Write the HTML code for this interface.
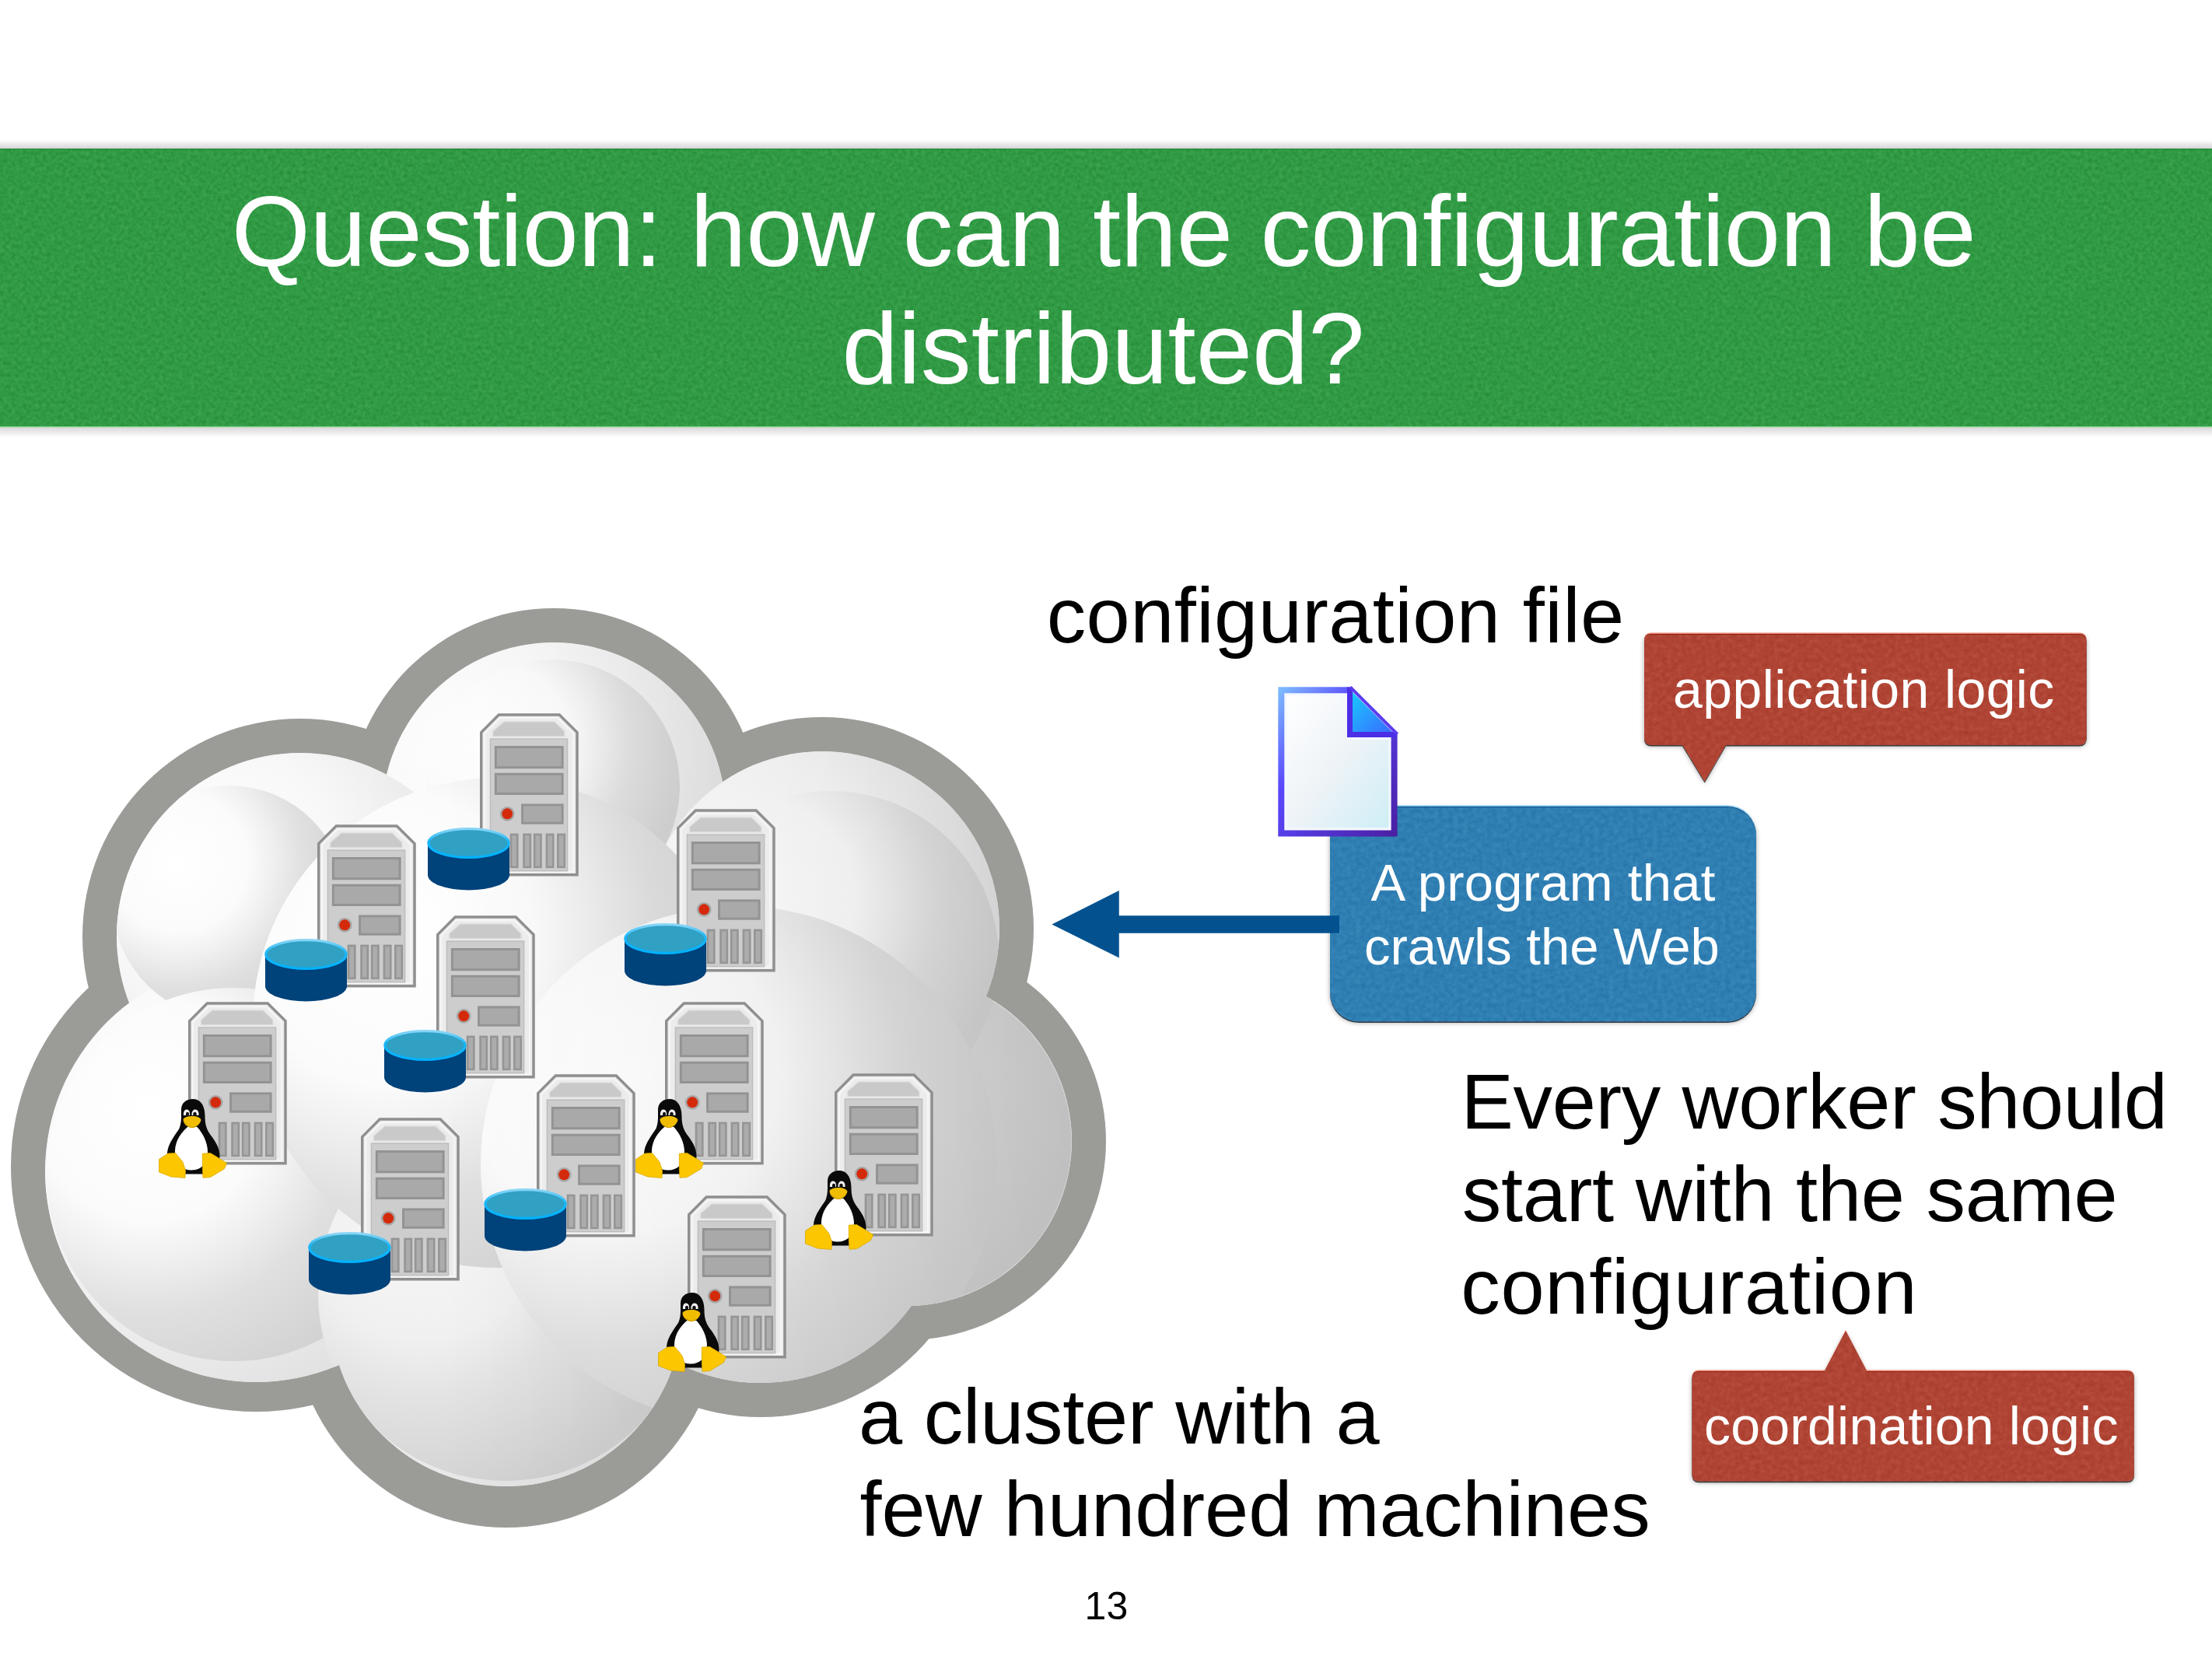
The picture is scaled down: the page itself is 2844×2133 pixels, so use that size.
<!DOCTYPE html>
<html><head><meta charset="utf-8"><title>Question: how can the configuration be distributed?</title>
<style>
html,body{margin:0;padding:0;background:#fff;}
body{width:2844px;height:2133px;position:relative;overflow:hidden;font-family:"Liberation Sans",sans-serif;}
.t{position:absolute;white-space:pre;font-family:"Liberation Sans",sans-serif;}
svg.g{position:absolute;left:0;top:0;}
</style></head><body>

<svg class="g" width="2844" height="2133" viewBox="0 0 2844 2133">
<defs>
<filter id="paper" x="0" y="0" width="100%" height="100%" color-interpolation-filters="sRGB">
  <feTurbulence type="fractalNoise" baseFrequency="0.2" numOctaves="2" seed="7" result="n"/>
  <feColorMatrix in="n" type="matrix" values="0.32 0 0 0 0.34  0.32 0 0 0 0.34  0.32 0 0 0 0.34  0 0 0 0 1" result="g"/>
  <feBlend in="g" in2="SourceGraphic" mode="soft-light" result="b"/>
  <feComposite in="b" in2="SourceGraphic" operator="in"/>
</filter>
<filter id="paper2" x="0" y="0" width="100%" height="100%" color-interpolation-filters="sRGB">
  <feTurbulence type="fractalNoise" baseFrequency="0.16" numOctaves="2" seed="11" result="n"/>
  <feColorMatrix in="n" type="matrix" values="0.24 0 0 0 0.38  0.24 0 0 0 0.38  0.24 0 0 0 0.38  0 0 0 0 1" result="g"/>
  <feBlend in="g" in2="SourceGraphic" mode="soft-light" result="b"/>
  <feComposite in="b" in2="SourceGraphic" operator="in"/>
</filter>
<linearGradient id="shTop" x1="0" y1="0" x2="0" y2="1">
  <stop offset="0" stop-color="#ffffff"/><stop offset="1" stop-color="#d6d4d6"/>
</linearGradient>
<linearGradient id="shBot" x1="0" y1="0" x2="0" y2="1">
  <stop offset="0" stop-color="#d8d6d8"/><stop offset="1" stop-color="#ffffff"/>
</linearGradient>
<linearGradient id="docFill" x1="0" y1="0" x2="1" y2="1">
  <stop offset="0" stop-color="#ffffff"/><stop offset="0.5" stop-color="#eef3f7"/><stop offset="1" stop-color="#cfeef6"/>
</linearGradient>
<linearGradient id="docEar" x1="0" y1="0" x2="1" y2="1">
  <stop offset="0" stop-color="#18c8ff"/><stop offset="1" stop-color="#3a6cff"/>
</linearGradient>
<linearGradient id="docStroke" x1="0" y1="0" x2="1" y2="1">
  <stop offset="0" stop-color="#7fc0ff"/><stop offset="0.35" stop-color="#5a48ff"/><stop offset="1" stop-color="#4a1ea0"/>
</linearGradient>
<symbol id="srv" viewBox="0 0 128 211" overflow="visible">
  <path d="M24.5,1.75 H103 L126,24.5 V209 H1.75 V24.5 Z" fill="#ececec" stroke="#8f8f8f" stroke-width="3.5"/>
  <path d="M6,26 L26,6 H101 L121,26 V205 H6 Z" fill="none" stroke="#f6f6f6" stroke-width="2"/>
  <rect x="13.5" y="33" width="100" height="171" fill="#cdcdcd" stroke="#bdbdbd" stroke-width="1.5"/>
  <path d="M31,10.5 H97 L110,23 V30 H16.5 V23 Z" fill="#c9c9c9" stroke="#e2e2e2" stroke-width="1.5"/>
  <rect x="20.5" y="43.5" width="86.5" height="26.5" fill="#a9a9a9" stroke="#939393" stroke-width="3"/>
  <rect x="20.5" y="78.5" width="86.5" height="25.5" fill="#a9a9a9" stroke="#939393" stroke-width="3"/>
  <circle cx="35.5" cy="130" r="9.5" fill="#a7a7a7"/>
  <circle cx="35.5" cy="130" r="7" fill="#d42a0c"/>
  <rect x="55" y="118.5" width="52" height="23.5" fill="#a9a9a9" stroke="#939393" stroke-width="3"/>
  <g fill="#acacac" stroke="#959595" stroke-width="2.6">
    <rect x="40.3" y="156.8" width="8.4" height="42.3"/>
    <rect x="57" y="156.8" width="8.4" height="42.3"/>
    <rect x="70.7" y="156.8" width="8.4" height="42.3"/>
    <rect x="86.6" y="156.8" width="8.4" height="42.3"/>
    <rect x="101.1" y="156.8" width="8.6" height="42.3"/>
  </g>
</symbol>
<linearGradient id="rimG" x1="0" y1="0" x2="0" y2="1">
  <stop offset="0" stop-color="#8ad6f6"/><stop offset="0.45" stop-color="#18b6f8"/><stop offset="1" stop-color="#00b2ff"/>
</linearGradient>
<symbol id="disk" viewBox="0 0 106 81" overflow="visible">
  <path d="M0.5,20 V61 A52.5,19.5 0 0 0 105.5,61 V20 Z" fill="#00427a"/>
  <ellipse cx="53" cy="20" rx="51.6" ry="18.4" fill="#30a0c3" stroke="url(#rimG)" stroke-width="3.2"/>
</symbol>
<symbol id="tux" viewBox="0 0 87 102" overflow="visible">
  <path d="M43.5,0 C35,0 28.5,5 28.5,14 C28.5,24 29,30 26,38 C20,47 13,56 11,66 C9,76 12,88 22,94 L33,96.5 L56,96.5 C68,94 78,86 78,74 C78,63 73,55 66,46 C61,39 59,32 59,22 C59,7 52,0 43.5,0 Z" fill="#0a0a0a"/>
  <path d="M38,35 C29,42 21,53 20.5,66 C20,82 28,91 40.5,91.5 C53,92 62,84 62.5,70 C63,56 56,44 49,36 Z" fill="#ffffff"/>
  <path d="M31.5,21 C31,16 33,13.5 35.5,13.5 C38.5,13.5 40,16.5 39.5,21 Z" fill="#f2f2f2"/>
  <path d="M42,21 C41.5,16 44,13.5 46.5,13.5 C49.5,13.5 51.5,16.5 51,21 Z" fill="#f2f2f2"/>
  <ellipse cx="36.5" cy="19.5" rx="2" ry="2.8" fill="#111"/>
  <ellipse cx="46" cy="19.5" rx="2.2" ry="2.8" fill="#111"/>
  <path d="M31,26 C33,22.5 39,22 43,22 C48,22 53,23.5 54,27 C53,32 48,36.5 42.5,37 C36,37 31,31.5 31,26 Z" fill="#f0bd00"/>
  <path d="M33,30 C36,34 40,36 43,36 C47,36 51,33 53,29.5 C51,33.5 47,37 42.5,37 C38,37 35,34 33,30 Z" fill="#c99a00"/>
  <path d="M0,77.5 L11.5,70 L21,69.5 L30.5,81 L34,92 L33.5,101.5 L15.5,100 L0,94 Z" fill="#fcc700" stroke="#d9a800" stroke-width="0.8"/>
  <path d="M55.8,70.2 L66,69.5 L76.8,76 L87,82.5 L84,89.7 L66,100.6 L56.5,101.3 L55.8,88.3 Z" fill="#fcc700" stroke="#d9a800" stroke-width="0.8"/>
</symbol>
</defs>
<rect x="0" y="180" width="2844" height="11" fill="url(#shTop)"/>
<rect x="0" y="549" width="2844" height="13" fill="url(#shBot)"/>
<rect x="0" y="191" width="2844" height="358" fill="#309a44" filter="url(#paper)"/>
<rect x="0" y="191" width="2844" height="1.2" fill="#24853a" opacity="0.8"/>
<rect x="0" y="548" width="2844" height="1.3" fill="#7fd98a" opacity="0.85"/>
<g id="cloud">
<g fill="#9b9b98"><circle cx="712" cy="1047" r="265"/><circle cx="386" cy="1204" r="280"/><circle cx="1057" cy="1194" r="272"/><circle cx="329" cy="1500" r="315"/><circle cx="651" cy="1689" r="275"/><circle cx="978" cy="1539" r="283"/><circle cx="1166" cy="1467" r="256"/><circle cx="716" cy="1355" r="270"/></g>
<clipPath id="cin"><circle cx="712" cy="1047" r="221"/><circle cx="386" cy="1204" r="236"/><circle cx="1057" cy="1194" r="228"/><circle cx="329" cy="1506" r="271"/><circle cx="651" cy="1685" r="226"/><circle cx="978" cy="1539" r="239"/><circle cx="1166" cy="1467" r="212"/><circle cx="716" cy="1355" r="226"/></clipPath>
<g fill="#eeeeee"><circle cx="712" cy="1047" r="221"/><circle cx="386" cy="1204" r="236"/><circle cx="1057" cy="1194" r="228"/><circle cx="329" cy="1506" r="271"/><circle cx="651" cy="1685" r="226"/><circle cx="978" cy="1539" r="239"/><circle cx="1166" cy="1467" r="212"/><circle cx="716" cy="1355" r="226"/></g>
<defs><radialGradient id="lg0" cx="613" cy="970" r="332" gradientUnits="userSpaceOnUse"><stop offset="0" stop-color="#ffffff"/><stop offset="0.45" stop-color="#f8f8f8"/><stop offset="0.75" stop-color="#ececec"/><stop offset="1" stop-color="#e2e2e2"/></radialGradient><radialGradient id="lg1" cx="280" cy="1121" r="354" gradientUnits="userSpaceOnUse"><stop offset="0" stop-color="#ffffff"/><stop offset="0.45" stop-color="#f8f8f8"/><stop offset="0.75" stop-color="#ececec"/><stop offset="1" stop-color="#e2e2e2"/></radialGradient><radialGradient id="lg2" cx="954" cy="1114" r="342" gradientUnits="userSpaceOnUse"><stop offset="0" stop-color="#ffffff"/><stop offset="0.45" stop-color="#f8f8f8"/><stop offset="0.75" stop-color="#ececec"/><stop offset="1" stop-color="#e2e2e2"/></radialGradient><radialGradient id="lg3" cx="207" cy="1411" r="406" gradientUnits="userSpaceOnUse"><stop offset="0" stop-color="#ffffff"/><stop offset="0.45" stop-color="#f8f8f8"/><stop offset="0.75" stop-color="#ececec"/><stop offset="1" stop-color="#e2e2e2"/></radialGradient><radialGradient id="lg4" cx="549" cy="1606" r="339" gradientUnits="userSpaceOnUse"><stop offset="0" stop-color="#ffffff"/><stop offset="0.45" stop-color="#f8f8f8"/><stop offset="0.75" stop-color="#ececec"/><stop offset="1" stop-color="#e2e2e2"/></radialGradient><radialGradient id="lg5" cx="870" cy="1455" r="358" gradientUnits="userSpaceOnUse"><stop offset="0" stop-color="#ffffff"/><stop offset="0.45" stop-color="#f8f8f8"/><stop offset="0.75" stop-color="#ececec"/><stop offset="1" stop-color="#e2e2e2"/></radialGradient><radialGradient id="lg6" cx="1071" cy="1393" r="318" gradientUnits="userSpaceOnUse"><stop offset="0" stop-color="#ffffff"/><stop offset="0.45" stop-color="#f8f8f8"/><stop offset="0.75" stop-color="#ececec"/><stop offset="1" stop-color="#e2e2e2"/></radialGradient><radialGradient id="lg7" cx="614" cy="1276" r="339" gradientUnits="userSpaceOnUse"><stop offset="0" stop-color="#ffffff"/><stop offset="0.45" stop-color="#f8f8f8"/><stop offset="0.75" stop-color="#ececec"/><stop offset="1" stop-color="#e2e2e2"/></radialGradient><radialGradient id="sg0" cx="1071" cy="1393" r="316" gradientUnits="userSpaceOnUse"><stop offset="0" stop-color="#e6e6e6"/><stop offset="0.4" stop-color="#dddddd"/><stop offset="1" stop-color="#cfcfcf"/></radialGradient><radialGradient id="sg1" cx="972" cy="1157" r="322" gradientUnits="userSpaceOnUse"><stop offset="0" stop-color="#ffffff"/><stop offset="0.4" stop-color="#fbfbfb"/><stop offset="0.55" stop-color="#efefef"/><stop offset="0.72" stop-color="#e0e0e0"/><stop offset="1" stop-color="#d3d3d3"/></radialGradient><radialGradient id="sg2" cx="638" cy="954" r="244" gradientUnits="userSpaceOnUse"><stop offset="0" stop-color="#ffffff"/><stop offset="0.4" stop-color="#fbfbfb"/><stop offset="0.55" stop-color="#efefef"/><stop offset="0.72" stop-color="#e0e0e0"/><stop offset="1" stop-color="#d3d3d3"/></radialGradient><radialGradient id="sg3" cx="228" cy="1108" r="225" gradientUnits="userSpaceOnUse"><stop offset="0" stop-color="#ffffff"/><stop offset="0.4" stop-color="#fbfbfb"/><stop offset="0.55" stop-color="#efefef"/><stop offset="0.72" stop-color="#e0e0e0"/><stop offset="1" stop-color="#d3d3d3"/></radialGradient><radialGradient id="sg4" cx="192" cy="1426" r="360" gradientUnits="userSpaceOnUse"><stop offset="0" stop-color="#ffffff"/><stop offset="0.4" stop-color="#fbfbfb"/><stop offset="0.55" stop-color="#efefef"/><stop offset="0.72" stop-color="#e0e0e0"/><stop offset="1" stop-color="#d3d3d3"/></radialGradient><radialGradient id="sg5" cx="542" cy="1579" r="362" gradientUnits="userSpaceOnUse"><stop offset="0" stop-color="#f7f7f7"/><stop offset="0.4" stop-color="#f0f0f0"/><stop offset="0.6" stop-color="#e3e3e3"/><stop offset="1" stop-color="#cfcfcf"/></radialGradient><radialGradient id="sg6" cx="498" cy="1205" r="472" gradientUnits="userSpaceOnUse"><stop offset="0" stop-color="#ffffff"/><stop offset="0.4" stop-color="#fbfbfb"/><stop offset="0.55" stop-color="#efefef"/><stop offset="0.72" stop-color="#e0e0e0"/><stop offset="1" stop-color="#d3d3d3"/></radialGradient><radialGradient id="sg7" cx="801" cy="1381" r="498" gradientUnits="userSpaceOnUse"><stop offset="0" stop-color="#ffffff"/><stop offset="0.4" stop-color="#fbfbfb"/><stop offset="0.55" stop-color="#efefef"/><stop offset="0.72" stop-color="#e0e0e0"/><stop offset="1" stop-color="#d3d3d3"/></radialGradient></defs>
<g clip-path="url(#cin)">
<circle cx="712" cy="1047" r="221" fill="url(#lg0)"/>
<circle cx="386" cy="1204" r="236" fill="url(#lg1)"/>
<circle cx="1057" cy="1194" r="228" fill="url(#lg2)"/>
<circle cx="329" cy="1506" r="271" fill="url(#lg3)"/>
<circle cx="651" cy="1685" r="226" fill="url(#lg4)"/>
<circle cx="978" cy="1539" r="239" fill="url(#lg5)"/>
<circle cx="1166" cy="1467" r="212" fill="url(#lg6)"/>
<circle cx="716" cy="1355" r="226" fill="url(#lg7)"/>
<circle cx="1166" cy="1467" r="211" fill="url(#sg0)"/>
<circle cx="1069" cy="1232" r="215" fill="url(#sg1)"/>
<circle cx="711" cy="1011" r="163" fill="url(#sg2)"/>
<circle cx="295" cy="1160" r="150" fill="url(#sg3)"/>
<circle cx="300" cy="1510" r="240" fill="url(#sg4)"/>
<circle cx="650" cy="1663" r="241" fill="url(#sg5)"/>
<circle cx="640" cy="1315" r="315" fill="url(#sg6)"/>
<circle cx="950" cy="1497" r="332" fill="url(#sg7)"/>
<defs><linearGradient id="shade" gradientUnits="userSpaceOnUse" x1="560" y1="0" x2="1420" y2="0"><stop offset="0" stop-color="#000" stop-opacity="0"/><stop offset="1" stop-color="#000" stop-opacity="0.08"/></linearGradient></defs>
<rect x="0" y="700" width="1440" height="1300" fill="url(#shade)"/>
</g>
<use href="#srv" x="617" y="917" width="127" height="210"/>
<use href="#disk" x="549.5" y="1064" width="106" height="81"/>
<use href="#srv" x="870" y="1040" width="127" height="210"/>
<use href="#disk" x="802.5" y="1187" width="106" height="81"/>
<use href="#srv" x="408" y="1060" width="127" height="210"/>
<use href="#disk" x="340.5" y="1207" width="106" height="81"/>
<use href="#srv" x="561" y="1177" width="127" height="210"/>
<use href="#disk" x="493.5" y="1324" width="106" height="81"/>
<use href="#srv" x="242" y="1288" width="127" height="210"/>
<use href="#tux" x="204.5" y="1413" width="87" height="102"/>
<use href="#srv" x="855" y="1288" width="127" height="210"/>
<use href="#tux" x="817.5" y="1413" width="87" height="102"/>
<use href="#srv" x="690" y="1381" width="127" height="210"/>
<use href="#disk" x="622.5" y="1528" width="106" height="81"/>
<use href="#srv" x="1073" y="1380" width="127" height="210"/>
<use href="#tux" x="1035.5" y="1505" width="87" height="102"/>
<use href="#srv" x="464" y="1437" width="127" height="210"/>
<use href="#disk" x="396.5" y="1584" width="106" height="81"/>
<use href="#srv" x="884" y="1537" width="127" height="210"/>
<use href="#tux" x="846.5" y="1662" width="87" height="102"/>
</g>
<defs><filter id="blur3" x="-10%" y="-10%" width="120%" height="140%"><feGaussianBlur stdDeviation="3"/></filter></defs>
<path d="M1747,1035.5 H2221 A37,37 0 0 1 2258,1072.5 V1274 A37,37 0 0 1 2221,1311 H1747 A37,37 0 0 1 1710,1274 V1072.5 A37,37 0 0 1 1747,1035.5 Z" fill="#000" opacity="0.35" transform="translate(0,4)" filter="url(#blur3)"/>
<path d="M1747,1035.5 H2221 A37,37 0 0 1 2258,1072.5 V1274 A37,37 0 0 1 2221,1311 H1747 A37,37 0 0 1 1710,1274 V1072.5 A37,37 0 0 1 1747,1035.5 Z" fill="#2a3a4a" transform="translate(0,4)"/>
<path d="M1747,1035.5 H2221 A37,37 0 0 1 2258,1072.5 V1274 A37,37 0 0 1 2221,1311 H1747 A37,37 0 0 1 1710,1274 V1072.5 A37,37 0 0 1 1747,1035.5 Z" fill="#74c4f4"/>
<path d="M1747,1035.5 H2221 A37,37 0 0 1 2258,1072.5 V1274 A37,37 0 0 1 2221,1311 H1747 A37,37 0 0 1 1710,1274 V1072.5 A37,37 0 0 1 1747,1035.5 Z" fill="#0b4d80" transform="translate(0,1.5)"/>
<path d="M1747,1035.5 H2221 A37,37 0 0 1 2258,1072.5 V1274 A37,37 0 0 1 2221,1311 H1747 A37,37 0 0 1 1710,1274 V1072.5 A37,37 0 0 1 1747,1035.5 Z" fill="#2f7fb3" transform="translate(0,2.5)" filter="url(#paper2)"/>
<path d="M2123,813.6 H2673.6 Q2682.6,813.6 2682.6,822.6 V946.5 Q2682.6,955.5 2673.6,955.5 H2219 L2191.7,1002.8 L2163,955.5 H2123 Q2114,955.5 2114,946.5 V822.6 Q2114,813.6 2123,813.6 Z" fill="#000" opacity="0.35" transform="translate(0,4)" filter="url(#blur3)"/>
<path d="M2123,813.6 H2673.6 Q2682.6,813.6 2682.6,822.6 V946.5 Q2682.6,955.5 2673.6,955.5 H2219 L2191.7,1002.8 L2163,955.5 H2123 Q2114,955.5 2114,946.5 V822.6 Q2114,813.6 2123,813.6 Z" fill="#3a3a3a" transform="translate(0,4)"/>
<path d="M2123,813.6 H2673.6 Q2682.6,813.6 2682.6,822.6 V946.5 Q2682.6,955.5 2673.6,955.5 H2219 L2191.7,1002.8 L2163,955.5 H2123 Q2114,955.5 2114,946.5 V822.6 Q2114,813.6 2123,813.6 Z" fill="#f28a76"/>
<path d="M2123,813.6 H2673.6 Q2682.6,813.6 2682.6,822.6 V946.5 Q2682.6,955.5 2673.6,955.5 H2219 L2191.7,1002.8 L2163,955.5 H2123 Q2114,955.5 2114,946.5 V822.6 Q2114,813.6 2123,813.6 Z" fill="#8a2010" transform="translate(0,1.5)"/>
<path d="M2123,813.6 H2673.6 Q2682.6,813.6 2682.6,822.6 V946.5 Q2682.6,955.5 2673.6,955.5 H2219 L2191.7,1002.8 L2163,955.5 H2123 Q2114,955.5 2114,946.5 V822.6 Q2114,813.6 2123,813.6 Z" fill="#b04434" transform="translate(0,2.5)" filter="url(#paper2)"/>
<path d="M2184.5,1761.5 H2346 L2373,1710 L2400,1761.5 H2735 Q2744,1761.5 2744,1770.5 V1893.2 Q2744,1902.2 2735,1902.2 H2184.5 Q2175.5,1902.2 2175.5,1893.2 V1770.5 Q2175.5,1761.5 2184.5,1761.5 Z" fill="#000" opacity="0.35" transform="translate(0,4)" filter="url(#blur3)"/>
<path d="M2184.5,1761.5 H2346 L2373,1710 L2400,1761.5 H2735 Q2744,1761.5 2744,1770.5 V1893.2 Q2744,1902.2 2735,1902.2 H2184.5 Q2175.5,1902.2 2175.5,1893.2 V1770.5 Q2175.5,1761.5 2184.5,1761.5 Z" fill="#3a3a3a" transform="translate(0,4)"/>
<path d="M2184.5,1761.5 H2346 L2373,1710 L2400,1761.5 H2735 Q2744,1761.5 2744,1770.5 V1893.2 Q2744,1902.2 2735,1902.2 H2184.5 Q2175.5,1902.2 2175.5,1893.2 V1770.5 Q2175.5,1761.5 2184.5,1761.5 Z" fill="#f28a76"/>
<path d="M2184.5,1761.5 H2346 L2373,1710 L2400,1761.5 H2735 Q2744,1761.5 2744,1770.5 V1893.2 Q2744,1902.2 2735,1902.2 H2184.5 Q2175.5,1902.2 2175.5,1893.2 V1770.5 Q2175.5,1761.5 2184.5,1761.5 Z" fill="#8a2010" transform="translate(0,1.5)"/>
<path d="M2184.5,1761.5 H2346 L2373,1710 L2400,1761.5 H2735 Q2744,1761.5 2744,1770.5 V1893.2 Q2744,1902.2 2735,1902.2 H2184.5 Q2175.5,1902.2 2175.5,1893.2 V1770.5 Q2175.5,1761.5 2184.5,1761.5 Z" fill="#b04434" transform="translate(0,2.5)" filter="url(#paper2)"/>
<path d="M1352.4,1188.4 L1438.8,1145 V1177.3 H1722 V1199.7 H1438.8 V1231.6 Z" fill="#03528f"/>
<path d="M1643.3,883.3 H1732 L1796.6,948 V1075.4 H1643.3 Z" fill="url(#docStroke)"/>
<path d="M1651.3,891.3 H1732 V948 H1788.6 V1067.4 H1651.3 Z" fill="#f4f8ff"/>
<path d="M1654.5,894.5 H1732 V951 H1785.5 V1064.2 H1654.5 Z" fill="url(#docFill)"/>
<path d="M1732,883.3 H1739 V941 H1796.6 V948 H1732 Z" fill="#4b2ee6"/>
<path d="M1739,890 L1790,941 H1739 Z" fill="url(#docEar)"/>
<path d="M1736,883.3 L1796.6,943.9" stroke="#5a3cf0" stroke-width="4" fill="none"/>
</svg>
<div class="t" style="left:297.8px;top:222.4px;font-size:130px;line-height:151px;color:#fff;letter-spacing:-0.32px;">Question: how can the configuration be</div>
<div class="t" style="left:1082.5px;top:373.4px;font-size:130px;line-height:151px;color:#fff;">distributed?</div>
<div class="t" style="left:1345.7px;top:731.5px;font-size:101px;line-height:119px;color:#000;letter-spacing:0.41px;">configuration file</div>
<div class="t" style="left:2151.1px;top:846.2px;font-size:68px;line-height:80px;color:#fff;letter-spacing:0.4px;">application logic</div>
<div class="t" style="left:1762.5px;top:1094.2px;font-size:67px;line-height:82px;color:#fff;letter-spacing:0.26px;">A program that</div>
<div class="t" style="left:1753.9px;top:1176.2px;font-size:67px;line-height:82px;color:#fff;">crawls the Web</div>
<div class="t" style="left:1878.6px;top:1356.5px;font-size:101px;line-height:119px;color:#000;letter-spacing:-0.37px;">Every worker should</div>
<div class="t" style="left:1879.8px;top:1475.5px;font-size:101px;line-height:119px;color:#000;letter-spacing:-0.26px;">start with the same</div>
<div class="t" style="left:1878.3px;top:1594.5px;font-size:101px;line-height:119px;color:#000;letter-spacing:0.68px;">configuration</div>
<div class="t" style="left:2191.1px;top:1793.4px;font-size:68px;line-height:80px;color:#fff;letter-spacing:0.18px;">coordination logic</div>
<div class="t" style="left:1104.0px;top:1761.7px;font-size:101px;line-height:119px;color:#000;letter-spacing:-0.26px;">a cluster with a</div>
<div class="t" style="left:1105.5px;top:1880.7px;font-size:101px;line-height:119px;color:#000;">few hundred machines</div>
<div class="t" style="left:1394.6px;top:2035.0px;font-size:50px;line-height:60px;color:#000;">13</div>
</body></html>
